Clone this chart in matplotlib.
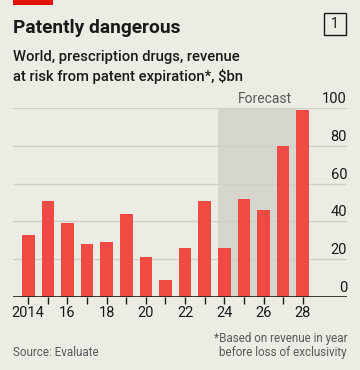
import matplotlib
matplotlib.use("Agg")
import matplotlib.pyplot as plt
from matplotlib.patches import Rectangle

years = list(range(2014, 2029))
revenue = [33, 51, 39, 28, 29, 44, 21, 9, 26, 51, 26, 52, 46, 80, 99]
year_labels = ["2014", "", "16", "", "18", "", "20", "", "22", "", "24", "", "26", "", "28"]
y_ticks = [0, 20, 40, 60, 80, 100]

W, H = 360, 370
BG = "#ECEBE4"
BAR = "#F04A43"
SHADE = "#D7D6CE"
GRID = "#CFCEC7"
DARK = "#1A1A1A"
GREY = "#595959"

plt.rcParams["font.family"] = ["Roboto", "DejaVu Sans"]


def fx(x):
    return x / W


def fy(y):
    return 1 - y / H


fig = plt.figure(figsize=(W / 100, H / 100), dpi=100, facecolor=BG)

# axes spans pixel box x 13..347, y 108.3..296.7
ax = fig.add_axes([fx(13), fy(296.7), (347 - 13) / W, (296.7 - 108.3) / H])
ax.set_facecolor(BG)
ax.set_xlim(2013.22, 2030.26)
ax.set_ylim(0, 100)

ax.axvspan(2023.68, 2027.68, color=SHADE, lw=0, zorder=0)
for t in y_ticks[1:]:
    ax.axhline(t, color=GRID, lw=1, zorder=1)
ax.bar(years, revenue, width=0.65, color=BAR, zorder=2)
ax.axhline(0, color=DARK, lw=1.2, zorder=3)

for t in y_ticks:
    ax.text(1.0, t + 2.6, str(t), transform=ax.get_yaxis_transform(), ha="right",
            va="baseline", fontsize=10.5, color=DARK)

ax.text(2024.68, 102.6, "Forecast", ha="left", va="baseline", fontsize=10,
        color=GREY, clip_on=False)

ax.set_xticks(years)
ax.set_xticklabels(year_labels, fontsize=10.5, color=DARK)
ax.tick_params(axis="x", length=5, width=1, color=DARK, pad=2)
ax.set_yticks([])
for s in ax.spines.values():
    s.set_visible(False)

# header
fig.patches.append(Rectangle((fx(13), fy(5)), 40 / W, 5 / H, transform=fig.transFigure,
                             color="#E3120B", lw=0))
fig.text(fx(13), fy(33), "Patently dangerous", fontsize=13.8, fontweight="bold",
         color=DARK, va="baseline")
fig.text(fx(13), fy(61), "World, prescription drugs, revenue", fontsize=10.6,
         fontweight="medium", color=DARK, va="baseline")
fig.text(fx(13), fy(81), "at risk from patent expiration*, $bn", fontsize=10.6,
         fontweight="medium", color=DARK, va="baseline")
fig.patches.append(Rectangle((fx(324), fy(35)), 22 / W, 22 / H, transform=fig.transFigure,
                             fill=False, ec=DARK, lw=1))
fig.text(fx(335), fy(24), "1", fontsize=10, color=DARK, ha="center", va="center")

# footer
fig.text(fx(347), fy(342), "*Based on revenue in year", fontsize=8.4, color=GREY,
         ha="right", va="baseline")
fig.text(fx(347), fy(356), "before loss of exclusivity", fontsize=8.4, color=GREY,
         ha="right", va="baseline")
fig.text(fx(13), fy(356), "Source: Evaluate", fontsize=8.4, color=GREY, va="baseline")

fig.savefig("out.png", dpi=100, facecolor=BG)
